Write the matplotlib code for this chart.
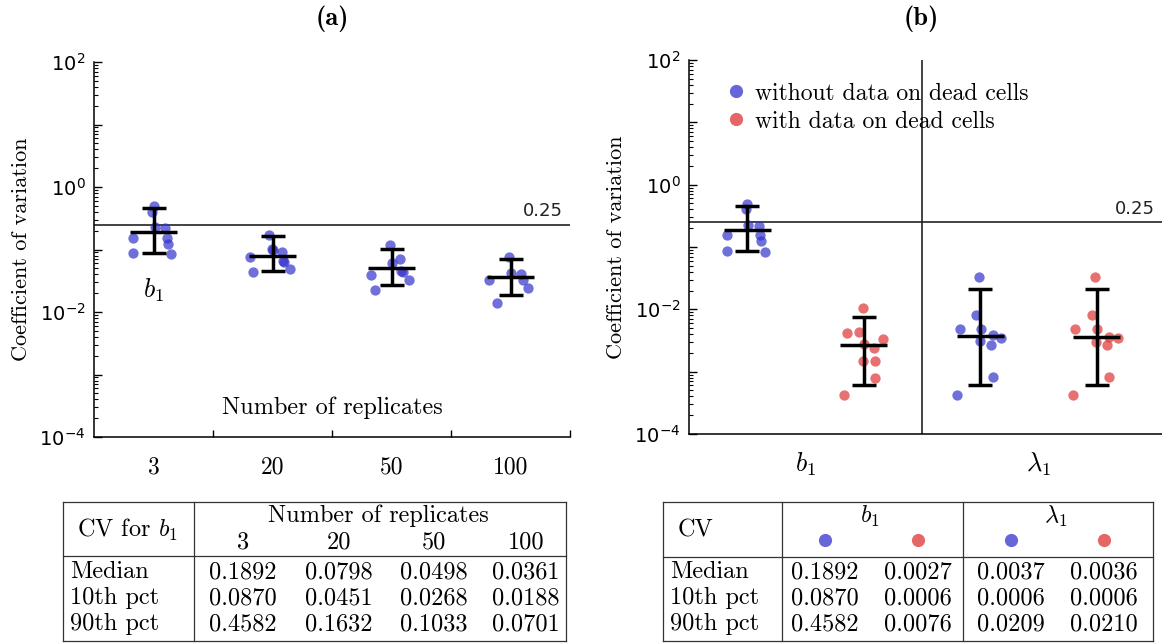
import matplotlib
matplotlib.use('Agg')
import matplotlib.pyplot as plt
from matplotlib.lines import Line2D
from matplotlib.ticker import FixedLocator, LogLocator, NullFormatter

W, H = 1162, 644

# panel (a): CV of b1 vs number of replicates
replicates = ['3', '20', '50', '100']
a_median = [0.1892, 0.0798, 0.0498, 0.0361]
a_p10 = [0.0870, 0.0451, 0.0268, 0.0188]
a_p90 = [0.4582, 0.1632, 0.1033, 0.0701]

a_points = [
    [0.49, 0.40, 0.225, 0.217, 0.155, 0.155, 0.124, 0.087, 0.084],
    [0.171, 0.101, 0.098, 0.090, 0.075, 0.066, 0.064, 0.049, 0.043],
    [0.118, 0.070, 0.060, 0.046, 0.043, 0.039, 0.0325, 0.0225],
    [0.075, 0.042, 0.040, 0.033, 0.033, 0.0245, 0.0138],
]
a_jitter = [
    [0.0, -0.015, 0.01, 0.10, -0.17, 0.11, 0.12, -0.17, 0.15],
    [-0.028, -0.008, 0.0, 0.084, -0.19, 0.09, 0.098, 0.146, -0.16],
    [-0.014, 0.07, 0.0, 0.08, 0.098, -0.174, 0.148, -0.14],
    [-0.011, 0.0, 0.092, -0.182, 0.106, 0.148, -0.112],
]

# panel (b): b1 / lambda1, without (blue) and with (red) dead-cell data
params = [r'$b_1$', r'$\lambda_1$']
b_median = [0.1892, 0.0027, 0.0037, 0.0036]
b_p10 = [0.0870, 0.0006, 0.0006, 0.0006]
b_p90 = [0.4582, 0.0076, 0.0209, 0.0210]
b_points = [
    a_points[0],
    [0.0106, 0.00436, 0.0041, 0.0034, 0.0028, 0.00236, 0.00147, 0.00147, 0.00078, 0.00043],
    [0.0329, 0.0081, 0.0049, 0.0049, 0.00385, 0.0035, 0.0031, 0.0027, 0.00081, 0.00043],
    [0.0329, 0.0081, 0.0049, 0.0049, 0.00362, 0.0035, 0.0030, 0.00266, 0.00081, 0.00043],
]
b_jitter = [
    a_jitter[0],
    [-0.009, -0.043, -0.143, 0.163, 0.0, 0.092, -0.006, 0.10, 0.095, -0.166],
    [-0.009, -0.037, -0.177, 0.009, 0.109, 0.18, -0.006, 0.094, 0.109, -0.2],
    [-0.011, -0.04, -0.183, 0.0, 0.103, 0.18, -0.006, 0.089, 0.103, -0.2],
]
threshold = 0.25

BLUE = '#3333cc'
RED = '#dd3333'
SERIF = 'cmr10'


def fx(px):
    return px / W


def fy(py):
    return 1 - py / H


def log_axis(ax):
    ax.set_yscale('log')
    ax.set_ylim(1e-4, 1e2)
    ax.yaxis.set_major_locator(FixedLocator([10.0 ** e for e in range(-4, 3)]))
    ax.set_yticklabels(['$10^{%d}$' % e if e % 2 == 0 else '' for e in range(-4, 3)],
                       fontsize=14)
    ax.yaxis.set_minor_locator(LogLocator(base=10, subs=range(2, 10), numticks=20))
    ax.yaxis.set_minor_formatter(NullFormatter())
    ax.tick_params(axis='y', which='major', direction='in', length=6, width=1, pad=6)
    ax.tick_params(axis='y', which='minor', direction='in', length=3, width=0.8)
    for s in ['top', 'right']:
        ax.spines[s].set_visible(False)
    for s in ['left', 'bottom']:
        ax.spines[s].set_linewidth(1.1)
    ax.set_ylabel('Coefficient of variation', fontfamily=SERIF, fontsize=16, labelpad=6)
    ax.axhline(threshold, color='#222222', lw=1.2, zorder=1)
    ax.text(0.985, threshold * 1.18, str(threshold), transform=ax.get_yaxis_transform(),
            ha='right', va='bottom', fontsize=13, color='#222222')


def bars(ax, x, med, lo, hi):
    for xi, m, l, h in zip(x, med, lo, hi):
        ax.errorbar(xi, m, yerr=[[m - l], [h - m]], color='black', lw=2.5,
                    capsize=8.3, capthick=2.5, zorder=4)
        ax.errorbar(xi, m, xerr=0.2, color='black', lw=2.5, capsize=0, zorder=4)


fig = plt.figure(figsize=(W / 100, H / 100), dpi=100)

# ---- panel (a)
axa = fig.add_axes([fx(94), fy(437), fx(570) - fx(94), fy(62) - fy(437)])
log_axis(axa)
axa.set_xlim(0.5, 4.5)
for i, (vals, jit) in enumerate(zip(a_points, a_jitter)):
    axa.scatter([i + 1 + j for j in jit], vals, s=55, color=BLUE, alpha=0.7,
                linewidths=0, zorder=3)
bars(axa, range(1, 5), a_median, a_p10, a_p90)
axa.set_xticks(range(1, 5))
axa.set_xticklabels(replicates, fontfamily=SERIF, fontsize=17)
axa.xaxis.set_minor_locator(FixedLocator([1.5, 2.5, 3.5, 4.5]))
axa.tick_params(axis='x', which='major', length=0, pad=14)
axa.tick_params(axis='x', which='minor', direction='in', length=5, width=1)
axa.text(2.5, 0.077, 'Number of replicates', transform=axa.get_xaxis_transform(),
         ha='center', va='center', fontfamily=SERIF, fontsize=17.5)
axa.text(1, 0.39, r'$b_1$', transform=axa.get_xaxis_transform(), ha='center',
         va='center', fontsize=19, math_fontfamily='cm')
axa.set_title('(a)', fontfamily='cmb10', fontsize=19, pad=27)

# ---- panel (b)
axb = fig.add_axes([fx(689), fy(434), 1 - fx(689), fy(60) - fy(434)])
log_axis(axb)
axb.set_xlim(0.5, 4.56)
for i, (vals, jit) in enumerate(zip(b_points, b_jitter)):
    axb.scatter([i + 1 + j for j in jit], vals, s=55, color=[BLUE, RED][i % 2],
                alpha=0.7, linewidths=0, zorder=3)
bars(axb, range(1, 5), b_median, b_p10, b_p90)
axb.axvline(2.5, color='#222222', lw=1.2, zorder=1)
axb.set_xticks([1.5, 3.5])
axb.set_xticklabels(params, fontsize=19)
for t in axb.get_xticklabels():
    t.set_math_fontfamily('cm')
axb.tick_params(axis='x', which='major', length=0, pad=12)
axb.set_title('(b)', fontfamily='cmb10', fontsize=19, pad=25, x=0.49)
handles = [Line2D([], [], ls='', marker='o', ms=9.5, color=c, alpha=0.75, mew=0)
           for c in (BLUE, RED)]
axb.legend(handles, ['without data on dead cells', 'with data on dead cells'],
           loc='upper left', bbox_to_anchor=(0.074, 0.94), frameon=False,
           prop={'family': SERIF, 'size': 17}, handlelength=1.0,
           handletextpad=0.3, labelspacing=0.25, borderaxespad=0, borderpad=0)


# ---- tables
TFS = 17.5


def hline(x0, x1, y):
    fig.add_artist(Line2D([fx(x0), fx(x1)], [fy(y), fy(y)], color='#333333', lw=0.9))


def vline(x, y0, y1):
    fig.add_artist(Line2D([fx(x), fx(x)], [fy(y0), fy(y1)], color='#333333', lw=0.9))


def tt(x, y, s, ha='center'):
    fig.text(fx(x), fy(y), s, ha=ha, va='center', fontfamily=SERIF, fontsize=TFS,
             math_fontfamily='cm')


def dot(x, y, c):
    fig.add_artist(Line2D([fx(x)], [fy(y)], ls='', marker='o', ms=9.5, color=c,
                          alpha=0.75, mew=0))


row_names = ['Median', '10th pct', '90th pct']
row_y = [572, 598, 624]

# table (a)
hline(63, 566, 502)
hline(63, 566, 556)
hline(63, 566, 641)
vline(63, 502, 641)
vline(194, 502, 641)
vline(566, 502, 641)
tt(127, 530, r'CV for $b_1$')
tt(378, 516, 'Number of replicates')
a_cols = [243, 339, 434, 526]
for x, lab in zip(a_cols, replicates):
    tt(x, 542, lab)
for y, name, vals in zip(row_y, row_names, [a_median, a_p10, a_p90]):
    tt(70, y, name, ha='left')
    for x, v in zip(a_cols, vals):
        tt(x, y, '%.4f' % v)

# table (b)
hline(663, 1153, 502)
hline(663, 1153, 557)
hline(663, 1153, 641)
for x in (663, 782, 963, 1153):
    vline(x, 502, 641)
tt(678, 530, 'CV', ha='left')
tt(870, 516, params[0])
tt(1056, 516, params[1])
b_cols = [825, 918, 1011, 1104]
for i, x in enumerate(b_cols):
    dot(x, 540, [BLUE, RED][i % 2])
for y, name, vals in zip(row_y, row_names, [b_median, b_p10, b_p90]):
    tt(670, y, name, ha='left')
    for x, v in zip(b_cols, vals):
        tt(x, y, '%.4f' % v)

fig.savefig('out.png', dpi=100)
